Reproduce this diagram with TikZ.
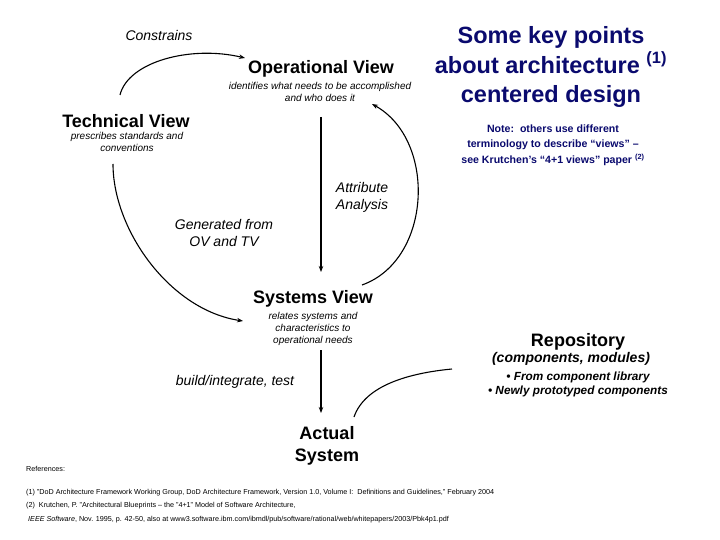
\documentclass[tikz,border=0pt]{standalone}
\usepackage{fontspec}
\setmainfont{Liberation Sans}
\usetikzlibrary{arrows.meta}
\definecolor{navy}{RGB}{10,10,110}
\begin{document}
\begin{tikzpicture}[x=1pt,y=-1pt,
  conn/.style={line width=1.1pt,-{Stealth[length=6pt,width=4.5pt]}},
  plain/.style={line width=1.1pt},
  viewtitle/.style={font=\fontsize{18}{20}\selectfont\bfseries,inner sep=0pt},
  viewdesc/.style={font=\fontsize{10}{12}\selectfont\itshape,align=center,inner sep=0pt},
  lbl/.style={font=\fontsize{14}{17}\selectfont\itshape,align=center,inner sep=0pt},
  title/.style={font=\fontsize{23.5}{29.5}\selectfont\bfseries,text=navy,align=center,inner sep=0pt},
  note/.style={font=\fontsize{10.6}{15.5}\selectfont\bfseries,text=navy,align=center,inner sep=0pt},
  refs/.style={font=\fontsize{7.2}{13.5}\selectfont,align=left,inner sep=0pt,anchor=north west}]
\useasboundingbox[fill=white] (0,0) rectangle (720,540);

% texts
\node[lbl] (constr) at (159,35) {Constrains};
\node[viewtitle] (ov) at (321,69) {Operational View};
\node[viewdesc] (ovd) at (320,92) {identifies what needs to be accomplished\\and who does it};
\node[viewtitle] (tv) at (126,121) {Technical View};
\node[viewdesc] (tvd) at (127,142) {prescribes standards and\\conventions};
\node[title] (ttl) at (551,67) {Some key points\\about architecture \textsuperscript{(1)}\\centered design};
\node[note] (nt) at (553,145) {Note:\ \ others use different\\terminology to describe “views” –\\see Krutchen’s “4+1 views” paper \textsuperscript{\normalfont\bfseries(2)}};
\node[lbl] (attr) at (362,197) {Attribute\\Analysis};
\node[lbl] (gen) at (224,233) {Generated from\\OV and TV};
\node[viewtitle] (sv) at (313,299) {Systems View};
\node[viewdesc] (svd) at (313,328.5) {relates systems and\\characteristics to\\operational needs};
\node[viewtitle] (rep) at (578,342) {Repository};
\node[font=\fontsize{14}{16}\selectfont\bfseries\itshape,inner sep=0pt] (repc) at (571,359) {(components, modules)};
\node[font=\fontsize{11.8}{14}\selectfont\bfseries\itshape,align=center,inner sep=0pt] (repl) at (578,384) {• From component library\\• Newly prototyped components};
\node[lbl] (bit) at (235,382) {build/integrate, test};
\node[font=\fontsize{18}{22}\selectfont\bfseries,align=center,inner sep=0pt] (act) at (327,446) {Actual\\System};
\node[font=\fontsize{7.2}{9}\selectfont,inner sep=0pt,anchor=west] (refh) at (26,469) {References:};
\node[refs] (refl) at (26,489) {(1) "DoD Architecture Framework Working Group, DoD Architecture Framework, Version 1.0, Volume I:\ \ Definitions and Guidelines," February 2004\\
(2)\ \ Krutchen, P. "Architectural Blueprints – the "4+1" Model of Software Architecture,\\
\ \textit{IEEE Software}, Nov. 1995, p. 42-50, also at www3.software.ibm.com/ibmdl/pub/software/rational/web/whitepapers/2003/Pbk4p1.pdf};

% connector end points
\coordinate (cS) at (120,95);
\coordinate (cE) at (245,58);
\coordinate (vS) at (321,117);
\coordinate (vE) at (321,272);
\coordinate (aS) at (362,285);
\coordinate (aE) at (372,104);
\coordinate (gS) at (113,164);
\coordinate (gE) at (243,321);
\coordinate (bS) at (321,350);
\coordinate (bE) at (321,413);
\coordinate (rS) at (354,417);
\coordinate (rE) at (452,369);

% connectors
\draw[conn] (cS) .. controls (128,62) and (190,45) .. (cE);
\draw[conn] (vS) -- (vE);
\draw[conn] (aS) .. controls (432,260) and (437,140) .. (aE);
\draw[conn] (gS) .. controls (113,230) and (170,310) .. (gE);
\draw[conn] (bS) -- (bE);
\draw[plain] (rS) .. controls (365,385) and (410,373) .. (rE);
\end{tikzpicture}
\end{document}
